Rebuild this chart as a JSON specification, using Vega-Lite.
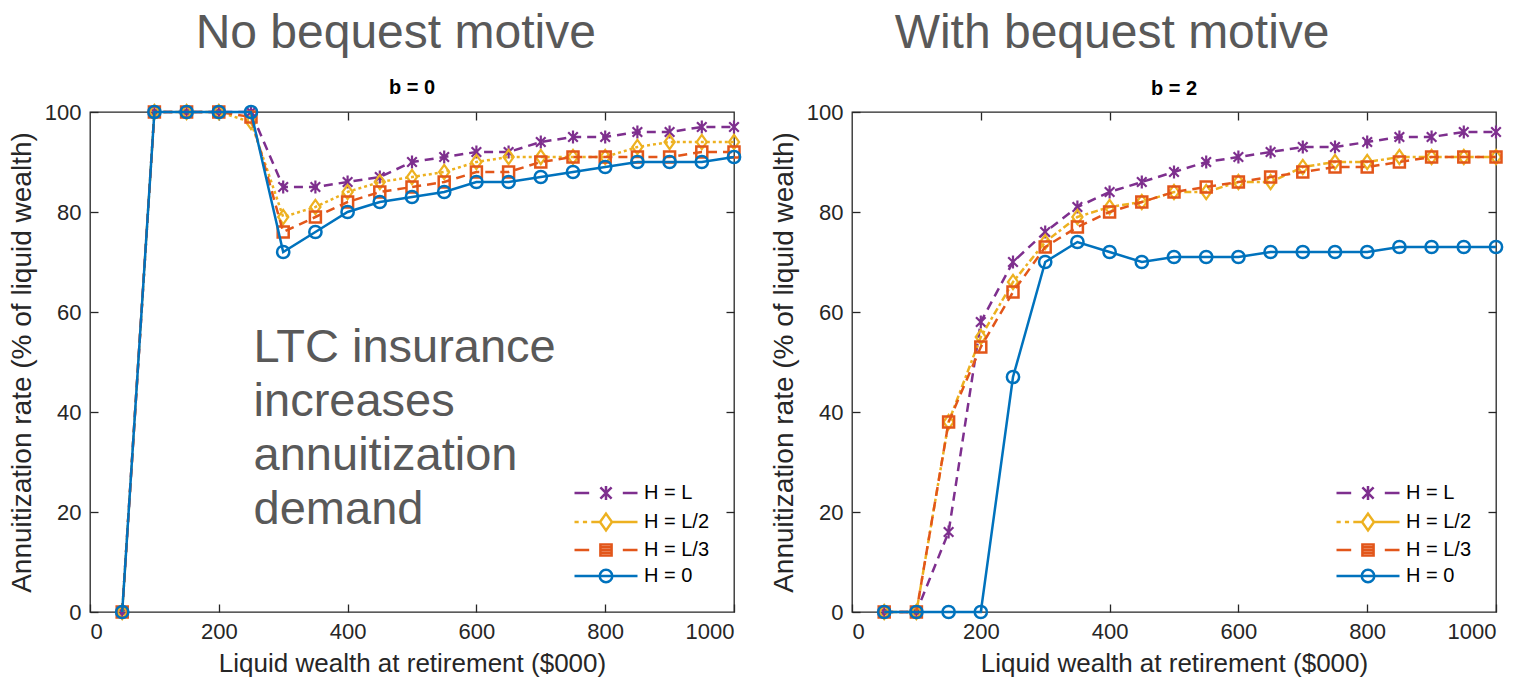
{
  "$schema": "https://vega.github.io/schema/vega-lite/v6.json",
  "padding": {"left": 7, "top": 9, "right": 0, "bottom": 0},
  "datasets": {
    "b0": [
      {"w":50,"H":"H = L","r":0},{"w":100,"H":"H = L","r":100},{"w":150,"H":"H = L","r":100},{"w":200,"H":"H = L","r":100},{"w":250,"H":"H = L","r":100},{"w":300,"H":"H = L","r":85},{"w":350,"H":"H = L","r":85},{"w":400,"H":"H = L","r":86},{"w":450,"H":"H = L","r":87},{"w":500,"H":"H = L","r":90},{"w":550,"H":"H = L","r":91},{"w":600,"H":"H = L","r":92},{"w":650,"H":"H = L","r":92},{"w":700,"H":"H = L","r":94},{"w":750,"H":"H = L","r":95},{"w":800,"H":"H = L","r":95},{"w":850,"H":"H = L","r":96},{"w":900,"H":"H = L","r":96},{"w":950,"H":"H = L","r":97},{"w":1000,"H":"H = L","r":97},
      {"w":50,"H":"H = L/2","r":0},{"w":100,"H":"H = L/2","r":100},{"w":150,"H":"H = L/2","r":100},{"w":200,"H":"H = L/2","r":100},{"w":250,"H":"H = L/2","r":98},{"w":300,"H":"H = L/2","r":79},{"w":350,"H":"H = L/2","r":81},{"w":400,"H":"H = L/2","r":84},{"w":450,"H":"H = L/2","r":86},{"w":500,"H":"H = L/2","r":87},{"w":550,"H":"H = L/2","r":88},{"w":600,"H":"H = L/2","r":90},{"w":650,"H":"H = L/2","r":91},{"w":700,"H":"H = L/2","r":91},{"w":750,"H":"H = L/2","r":91},{"w":800,"H":"H = L/2","r":91},{"w":850,"H":"H = L/2","r":93},{"w":900,"H":"H = L/2","r":94},{"w":950,"H":"H = L/2","r":94},{"w":1000,"H":"H = L/2","r":94},
      {"w":50,"H":"H = L/3","r":0},{"w":100,"H":"H = L/3","r":100},{"w":150,"H":"H = L/3","r":100},{"w":200,"H":"H = L/3","r":100},{"w":250,"H":"H = L/3","r":99},{"w":300,"H":"H = L/3","r":76},{"w":350,"H":"H = L/3","r":79},{"w":400,"H":"H = L/3","r":82},{"w":450,"H":"H = L/3","r":84},{"w":500,"H":"H = L/3","r":85},{"w":550,"H":"H = L/3","r":86},{"w":600,"H":"H = L/3","r":88},{"w":650,"H":"H = L/3","r":88},{"w":700,"H":"H = L/3","r":90},{"w":750,"H":"H = L/3","r":91},{"w":800,"H":"H = L/3","r":91},{"w":850,"H":"H = L/3","r":91},{"w":900,"H":"H = L/3","r":91},{"w":950,"H":"H = L/3","r":92},{"w":1000,"H":"H = L/3","r":92},
      {"w":50,"H":"H = 0","r":0},{"w":100,"H":"H = 0","r":100},{"w":150,"H":"H = 0","r":100},{"w":200,"H":"H = 0","r":100},{"w":250,"H":"H = 0","r":100},{"w":300,"H":"H = 0","r":72},{"w":350,"H":"H = 0","r":76},{"w":400,"H":"H = 0","r":80},{"w":450,"H":"H = 0","r":82},{"w":500,"H":"H = 0","r":83},{"w":550,"H":"H = 0","r":84},{"w":600,"H":"H = 0","r":86},{"w":650,"H":"H = 0","r":86},{"w":700,"H":"H = 0","r":87},{"w":750,"H":"H = 0","r":88},{"w":800,"H":"H = 0","r":89},{"w":850,"H":"H = 0","r":90},{"w":900,"H":"H = 0","r":90},{"w":950,"H":"H = 0","r":90},{"w":1000,"H":"H = 0","r":91}
    ],
    "b2": [
      {"w":50,"H":"H = L","r":0},{"w":100,"H":"H = L","r":0},{"w":150,"H":"H = L","r":16},{"w":200,"H":"H = L","r":58},{"w":250,"H":"H = L","r":70},{"w":300,"H":"H = L","r":76},{"w":350,"H":"H = L","r":81},{"w":400,"H":"H = L","r":84},{"w":450,"H":"H = L","r":86},{"w":500,"H":"H = L","r":88},{"w":550,"H":"H = L","r":90},{"w":600,"H":"H = L","r":91},{"w":650,"H":"H = L","r":92},{"w":700,"H":"H = L","r":93},{"w":750,"H":"H = L","r":93},{"w":800,"H":"H = L","r":94},{"w":850,"H":"H = L","r":95},{"w":900,"H":"H = L","r":95},{"w":950,"H":"H = L","r":96},{"w":1000,"H":"H = L","r":96},
      {"w":50,"H":"H = L/2","r":0},{"w":100,"H":"H = L/2","r":0},{"w":150,"H":"H = L/2","r":38},{"w":200,"H":"H = L/2","r":55},{"w":250,"H":"H = L/2","r":66},{"w":300,"H":"H = L/2","r":74},{"w":350,"H":"H = L/2","r":79},{"w":400,"H":"H = L/2","r":81},{"w":450,"H":"H = L/2","r":82},{"w":500,"H":"H = L/2","r":84},{"w":550,"H":"H = L/2","r":84},{"w":600,"H":"H = L/2","r":86},{"w":650,"H":"H = L/2","r":86},{"w":700,"H":"H = L/2","r":89},{"w":750,"H":"H = L/2","r":90},{"w":800,"H":"H = L/2","r":90},{"w":850,"H":"H = L/2","r":91},{"w":900,"H":"H = L/2","r":91},{"w":950,"H":"H = L/2","r":91},{"w":1000,"H":"H = L/2","r":91},
      {"w":50,"H":"H = L/3","r":0},{"w":100,"H":"H = L/3","r":0},{"w":150,"H":"H = L/3","r":38},{"w":200,"H":"H = L/3","r":53},{"w":250,"H":"H = L/3","r":64},{"w":300,"H":"H = L/3","r":73},{"w":350,"H":"H = L/3","r":77},{"w":400,"H":"H = L/3","r":80},{"w":450,"H":"H = L/3","r":82},{"w":500,"H":"H = L/3","r":84},{"w":550,"H":"H = L/3","r":85},{"w":600,"H":"H = L/3","r":86},{"w":650,"H":"H = L/3","r":87},{"w":700,"H":"H = L/3","r":88},{"w":750,"H":"H = L/3","r":89},{"w":800,"H":"H = L/3","r":89},{"w":850,"H":"H = L/3","r":90},{"w":900,"H":"H = L/3","r":91},{"w":950,"H":"H = L/3","r":91},{"w":1000,"H":"H = L/3","r":91},
      {"w":50,"H":"H = 0","r":0},{"w":100,"H":"H = 0","r":0},{"w":150,"H":"H = 0","r":0},{"w":200,"H":"H = 0","r":0},{"w":250,"H":"H = 0","r":47},{"w":300,"H":"H = 0","r":70},{"w":350,"H":"H = 0","r":74},{"w":400,"H":"H = 0","r":72},{"w":450,"H":"H = 0","r":70},{"w":500,"H":"H = 0","r":71},{"w":550,"H":"H = 0","r":71},{"w":600,"H":"H = 0","r":71},{"w":650,"H":"H = 0","r":72},{"w":700,"H":"H = 0","r":72},{"w":750,"H":"H = 0","r":72},{"w":800,"H":"H = 0","r":72},{"w":850,"H":"H = 0","r":73},{"w":900,"H":"H = 0","r":73},{"w":950,"H":"H = 0","r":73},{"w":1000,"H":"H = 0","r":73}
    ],
    "note": [{"label": ["LTC insurance", "increases", "annuitization", "demand"]}]
  },
  "resolve": {"scale": {"color": "independent", "shape": "independent"}, "legend": {"color": "independent", "shape": "independent"}},
  "hconcat": [
    {
      "title": {"text": "No bequest motive", "anchor": "start", "frame": "bounds", "dx": 188, "offset": 20},
      "resolve": {"scale": {"color": "independent", "shape": "independent"}, "legend": {"color": "independent", "shape": "independent"}},
      "vconcat": [
        {
          "width": 644, "height": 500,
          "title": {"text": "b = 0", "fontSize": 20, "fontWeight": "bold", "color": "#000000", "offset": 2, "anchor": "middle"},
          "data": {"name": "b0"},
          "resolve": {"axis": {"x": "independent", "y": "independent"}},
          "layer": [
            {
              "transform": [{"filter": "datum.H === 'H = L'"}],
              "mark": {"type": "line", "strokeWidth": 2.5, "color": "#7E2F8E", "strokeDash": [9, 6]},
              "encoding": {
                "x": {"field": "w", "type": "quantitative", "scale": {"domain": [0, 1000], "nice": false}, "axis": {"title": "Liquid wealth at retirement ($000)", "values": [0,200,400,600,800,1000]}},
                "y": {"field": "r", "type": "quantitative", "scale": {"domain": [0, 100], "nice": false}, "axis": {"title": "Annuitization rate (% of liquid wealth)", "values": [0,20,40,60,80,100]}}
              }
            },
            {
              "transform": [{"filter": "datum.H === 'H = L'"}],
              "mark": {"type": "point", "filled": false, "size": 144, "strokeWidth": 2.2, "opacity": 1, "color": "#7E2F8E", "shape": "M-0.8,-0.8L0.8,0.8M-0.8,0.8L0.8,-0.8M0,-1.1L0,1.1"},
              "encoding": {"x": {"field": "w", "type": "quantitative", "axis": null}, "y": {"field": "r", "type": "quantitative", "axis": null}}
            },
            {
              "transform": [{"filter": "datum.H === 'H = L/2'"}],
              "mark": {"type": "line", "strokeWidth": 2.5, "color": "#EDB120", "strokeDash": [3, 3]},
              "encoding": {"x": {"field": "w", "type": "quantitative", "axis": null}, "y": {"field": "r", "type": "quantitative", "axis": null}}
            },
            {
              "transform": [{"filter": "datum.H === 'H = L/2'"}],
              "mark": {"type": "point", "filled": false, "size": 144, "strokeWidth": 2.2, "opacity": 1, "color": "#EDB120", "shape": "M0,-1.2L0.85,0L0,1.2L-0.85,0Z"},
              "encoding": {"x": {"field": "w", "type": "quantitative", "axis": null}, "y": {"field": "r", "type": "quantitative", "axis": null}}
            },
            {
              "transform": [{"filter": "datum.H === 'H = L/3'"}],
              "mark": {"type": "line", "strokeWidth": 2.5, "color": "#E2561A", "strokeDash": [9, 6]},
              "encoding": {"x": {"field": "w", "type": "quantitative", "axis": null}, "y": {"field": "r", "type": "quantitative", "axis": null}}
            },
            {
              "transform": [{"filter": "datum.H === 'H = L/3'"}],
              "mark": {"type": "point", "filled": false, "size": 121, "strokeWidth": 2.5, "opacity": 1, "color": "#E2561A", "shape": "square"},
              "encoding": {"x": {"field": "w", "type": "quantitative", "axis": null}, "y": {"field": "r", "type": "quantitative", "axis": null}}
            },
            {
              "transform": [{"filter": "datum.H === 'H = 0'"}],
              "mark": {"type": "line", "strokeWidth": 2.5, "color": "#0072BD"},
              "encoding": {"x": {"field": "w", "type": "quantitative", "axis": null}, "y": {"field": "r", "type": "quantitative", "axis": null}}
            },
            {
              "transform": [{"filter": "datum.H === 'H = 0'"}],
              "mark": {"type": "point", "filled": false, "size": 150, "strokeWidth": 2.5, "opacity": 1, "color": "#0072BD", "shape": "circle"},
              "encoding": {"x": {"field": "w", "type": "quantitative", "axis": null}, "y": {"field": "r", "type": "quantitative", "axis": null}}
            },
            {
              "data": {"name": "note"},
              "mark": {"type": "text", "align": "left", "baseline": "alphabetic", "fontSize": 47, "lineHeight": 54, "color": "#595959", "font": "Liberation Sans"},
              "encoding": {"x": {"datum": 254, "type": "quantitative", "axis": null}, "y": {"datum": 50, "type": "quantitative", "axis": null}, "text": {"field": "label"}}
            },
            {
              "transform": [{"filter": "datum.r < 0"}],
              "mark": {"type": "point", "filled": false, "size": 196, "strokeWidth": 2.5, "opacity": 1},
              "encoding": {
                "x": {"field": "w", "type": "quantitative", "axis": {"orient": "top", "labels": false, "title": null, "values": [200,400,600,800]}},
                "y": {"field": "r", "type": "quantitative", "axis": {"orient": "right", "labels": false, "title": null, "values": [20,40,60,80]}},
                "color": {"field": "H", "type": "nominal", "scale": {"domain": ["H = L","H = L/2","H = L/3","H = 0"], "range": ["#7E2F8E","#EDB120","#E2561A","#0072BD"]}, "legend": {"title": null, "orient": "bottom-right", "offset": 22, "padding": 2, "labelFontSize": 20, "labelFont": "Liberation Sans", "labelColor": "#000000", "symbolSize": 196, "symbolStrokeWidth": 2.5, "symbolOpacity": 1, "labelOffset": 28, "rowPadding": 3}},
                "shape": {"field": "H", "type": "nominal", "scale": {"domain": ["H = L","H = L/2","H = L/3","H = 0"], "range": ["M-4.5,0H-2.4M2.4,0H4.5M-0.8,-0.8L0.8,0.8M-0.8,0.8L0.8,-0.8M0,-1L0,1", "M-4.5,0H-3.9M-3.3,0H-2.7M-2.1,0H-0.9M0.9,0H4.5M0,-1.2L0.85,0L0,1.2L-0.85,0Z", "M-4.5,0H-2.4M2.4,0H4.5M-0.8,-0.8H0.8V0.8H-0.8ZM-0.8,-0.4H0.8M-0.8,0H0.8M-0.8,0.4H0.8", "M-4.5,0H4.5M0.9,0A0.9,0.9,0,1,1,-0.9,0A0.9,0.9,0,1,1,0.9,0"]}, "legend": {"title": null, "orient": "bottom-right", "offset": 22, "padding": 2, "labelFontSize": 20, "labelFont": "Liberation Sans", "labelColor": "#000000", "symbolSize": 196, "symbolStrokeWidth": 2.5, "symbolOpacity": 1, "labelOffset": 28, "rowPadding": 3}}
              }
            }
          ]
        }
      ]
    },
    {
      "title": {"text": "With bequest motive", "anchor": "start", "frame": "bounds", "dx": 125, "offset": 20},
      "resolve": {"scale": {"color": "independent", "shape": "independent"}, "legend": {"color": "independent", "shape": "independent"}},
      "vconcat": [
        {
          "width": 644, "height": 500,
          "title": {"text": "b = 2", "fontSize": 20, "fontWeight": "bold", "color": "#000000", "offset": 2, "anchor": "middle"},
          "data": {"name": "b2"},
          "resolve": {"axis": {"x": "independent", "y": "independent"}},
          "layer": [
            {
              "transform": [{"filter": "datum.H === 'H = L'"}],
              "mark": {"type": "line", "strokeWidth": 2.5, "color": "#7E2F8E", "strokeDash": [9, 6]},
              "encoding": {
                "x": {"field": "w", "type": "quantitative", "scale": {"domain": [0, 1000], "nice": false}, "axis": {"title": "Liquid wealth at retirement ($000)", "values": [0,200,400,600,800,1000]}},
                "y": {"field": "r", "type": "quantitative", "scale": {"domain": [0, 100], "nice": false}, "axis": {"title": "Annuitization rate (% of liquid wealth)", "values": [0,20,40,60,80,100]}}
              }
            },
            {
              "transform": [{"filter": "datum.H === 'H = L'"}],
              "mark": {"type": "point", "filled": false, "size": 144, "strokeWidth": 2.2, "opacity": 1, "color": "#7E2F8E", "shape": "M-0.8,-0.8L0.8,0.8M-0.8,0.8L0.8,-0.8M0,-1.1L0,1.1"},
              "encoding": {"x": {"field": "w", "type": "quantitative", "axis": null}, "y": {"field": "r", "type": "quantitative", "axis": null}}
            },
            {
              "transform": [{"filter": "datum.H === 'H = L/2'"}],
              "mark": {"type": "line", "strokeWidth": 2.5, "color": "#EDB120", "strokeDash": [3, 3, 7, 3]},
              "encoding": {"x": {"field": "w", "type": "quantitative", "axis": null}, "y": {"field": "r", "type": "quantitative", "axis": null}}
            },
            {
              "transform": [{"filter": "datum.H === 'H = L/2'"}],
              "mark": {"type": "point", "filled": false, "size": 144, "strokeWidth": 2.2, "opacity": 1, "color": "#EDB120", "shape": "M0,-1.2L0.85,0L0,1.2L-0.85,0Z"},
              "encoding": {"x": {"field": "w", "type": "quantitative", "axis": null}, "y": {"field": "r", "type": "quantitative", "axis": null}}
            },
            {
              "transform": [{"filter": "datum.H === 'H = L/3'"}],
              "mark": {"type": "line", "strokeWidth": 2.5, "color": "#E2561A", "strokeDash": [9, 6]},
              "encoding": {"x": {"field": "w", "type": "quantitative", "axis": null}, "y": {"field": "r", "type": "quantitative", "axis": null}}
            },
            {
              "transform": [{"filter": "datum.H === 'H = L/3'"}],
              "mark": {"type": "point", "filled": false, "size": 121, "strokeWidth": 2.5, "opacity": 1, "color": "#E2561A", "shape": "square"},
              "encoding": {"x": {"field": "w", "type": "quantitative", "axis": null}, "y": {"field": "r", "type": "quantitative", "axis": null}}
            },
            {
              "transform": [{"filter": "datum.H === 'H = 0'"}],
              "mark": {"type": "line", "strokeWidth": 2.5, "color": "#0072BD"},
              "encoding": {"x": {"field": "w", "type": "quantitative", "axis": null}, "y": {"field": "r", "type": "quantitative", "axis": null}}
            },
            {
              "transform": [{"filter": "datum.H === 'H = 0'"}],
              "mark": {"type": "point", "filled": false, "size": 150, "strokeWidth": 2.5, "opacity": 1, "color": "#0072BD", "shape": "circle"},
              "encoding": {"x": {"field": "w", "type": "quantitative", "axis": null}, "y": {"field": "r", "type": "quantitative", "axis": null}}
            },
            {
              "transform": [{"filter": "datum.r < 0"}],
              "mark": {"type": "point", "filled": false, "size": 196, "strokeWidth": 2.5, "opacity": 1},
              "encoding": {
                "x": {"field": "w", "type": "quantitative", "axis": {"orient": "top", "labels": false, "title": null, "values": [200,400,600,800]}},
                "y": {"field": "r", "type": "quantitative", "axis": {"orient": "right", "labels": false, "title": null, "values": [20,40,60,80]}},
                "color": {"field": "H", "type": "nominal", "scale": {"domain": ["H = L","H = L/2","H = L/3","H = 0"], "range": ["#7E2F8E","#EDB120","#E2561A","#0072BD"]}, "legend": {"title": null, "orient": "bottom-right", "offset": 22, "padding": 2, "labelFontSize": 20, "labelFont": "Liberation Sans", "labelColor": "#000000", "symbolSize": 196, "symbolStrokeWidth": 2.5, "symbolOpacity": 1, "labelOffset": 28, "rowPadding": 3}},
                "shape": {"field": "H", "type": "nominal", "scale": {"domain": ["H = L","H = L/2","H = L/3","H = 0"], "range": ["M-4.5,0H-2.4M2.4,0H4.5M-0.8,-0.8L0.8,0.8M-0.8,0.8L0.8,-0.8M0,-1L0,1", "M-4.5,0H-3.9M-3.3,0H-2.7M-2.1,0H-0.9M0.9,0H4.5M0,-1.2L0.85,0L0,1.2L-0.85,0Z", "M-4.5,0H-2.4M2.4,0H4.5M-0.8,-0.8H0.8V0.8H-0.8ZM-0.8,-0.4H0.8M-0.8,0H0.8M-0.8,0.4H0.8", "M-4.5,0H4.5M0.9,0A0.9,0.9,0,1,1,-0.9,0A0.9,0.9,0,1,1,0.9,0"]}, "legend": {"title": null, "orient": "bottom-right", "offset": 22, "padding": 2, "labelFontSize": 20, "labelFont": "Liberation Sans", "labelColor": "#000000", "symbolSize": 196, "symbolStrokeWidth": 2.5, "symbolOpacity": 1, "labelOffset": 28, "rowPadding": 3}}
              }
            }
          ]
        }
      ]
    }
  ],
  "spacing": 23,
  "config": {
    "font": "Liberation Sans",
    "view": {"stroke": "#262626", "strokeWidth": 1.3},
    "title": {"font": "Liberation Sans", "fontSize": 48, "fontWeight": "normal", "color": "#595959"},
    "axis": {"labelFont": "Liberation Sans", "titleFont": "Liberation Sans", "labelFontSize": 22, "titleFontSize": 26, "titleFontWeight": "normal", "labelColor": "#262626", "titleColor": "#262626", "grid": false, "domain": false, "tickColor": "#262626", "tickSize": -8, "tickWidth": 1.3, "labelPadding": 17, "titlePadding": 8, "format": "d"},
    "axisY": {"titleFontSize": 28}
  }
}
